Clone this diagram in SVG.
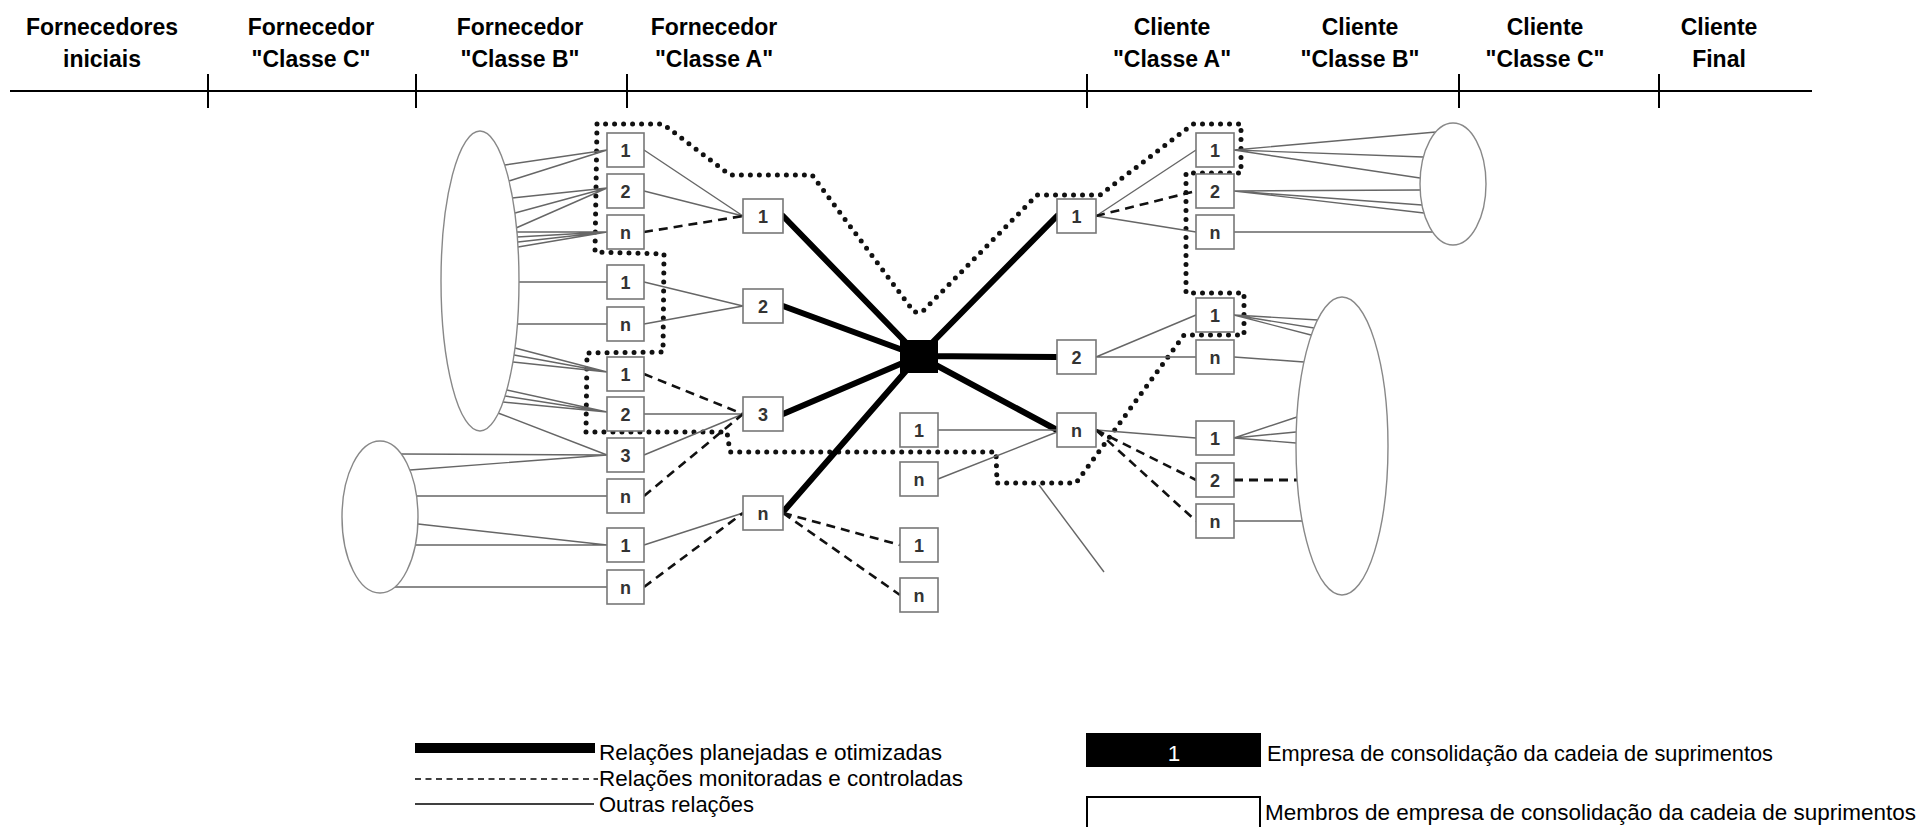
<svg xmlns="http://www.w3.org/2000/svg" width="1923" height="827" viewBox="0 0 1923 827">
  <style>
    .hdr { font-family: "Liberation Sans", Arial, sans-serif; font-size: 23px; font-weight: bold; fill: #000; text-anchor: middle; }
    .lbl { font-family: "Liberation Sans", Arial, sans-serif; font-size: 18px; font-weight: bold; fill: #333; text-anchor: middle; }
    .leg { font-family: "Liberation Sans", Arial, sans-serif; font-size: 22.5px; fill: #000; }
    .box { fill: #fff; stroke: #777; stroke-width: 1.6; }
    .ell { fill: #fff; stroke: #888; stroke-width: 1.4; }
    .thin { fill: none; stroke: #666; stroke-width: 1.4; }
    .dash { fill: none; stroke: #111; stroke-width: 2.6; stroke-dasharray: 9 6; }
    .thick { fill: none; stroke: #000; stroke-width: 6; stroke-linecap: round; }
    .dot { fill: none; stroke: #111; stroke-width: 5; stroke-dasharray: 0 9; stroke-linecap: round; stroke-linejoin: round; }
    .axis { fill: none; stroke: #000; stroke-width: 2; }
  </style>

  <!-- header: supply chain tiers -->
  <g id="header">
    <line class="axis" x1="10" y1="91" x2="1812" y2="91"/>
    <line class="axis" x1="208" y1="74" x2="208" y2="108"/>
    <line class="axis" x1="416" y1="74" x2="416" y2="108"/>
    <line class="axis" x1="627" y1="74" x2="627" y2="108"/>
    <line class="axis" x1="1087" y1="74" x2="1087" y2="108"/>
    <line class="axis" x1="1459" y1="74" x2="1459" y2="108"/>
    <line class="axis" x1="1659" y1="74" x2="1659" y2="108"/>
    <text class="hdr" x="102" y="35">Fornecedores</text>
    <text class="hdr" x="102" y="67">iniciais</text>
    <text class="hdr" x="311" y="35">Fornecedor</text>
    <text class="hdr" x="311" y="67">"Classe C"</text>
    <text class="hdr" x="520" y="35">Fornecedor</text>
    <text class="hdr" x="520" y="67">"Classe B"</text>
    <text class="hdr" x="714" y="35">Fornecedor</text>
    <text class="hdr" x="714" y="67">"Classe A"</text>
    <text class="hdr" x="1172" y="35">Cliente</text>
    <text class="hdr" x="1172" y="67">"Classe A"</text>
    <text class="hdr" x="1360" y="35">Cliente</text>
    <text class="hdr" x="1360" y="67">"Classe B"</text>
    <text class="hdr" x="1545" y="35">Cliente</text>
    <text class="hdr" x="1545" y="67">"Classe C"</text>
    <text class="hdr" x="1719" y="35">Cliente</text>
    <text class="hdr" x="1719" y="67">Final</text>
  </g>

  <!-- connectors -->
  <g id="connectors">
    <!-- consolidated region boundary -->
    <path class="dot" d="M597 124 L595 252 L664 254 L663 352 L587 353 L586 432 L727 432 L730 452 L996 452 L997 483 L1076 483 L1184 335 L1244 335 L1244 293 L1186 293 L1186 173 L1241 173 L1241 124 L1193 124 L1100 195 L1037 195 L922 312 L914 312 L812 175 L730 175 L663 124 Z"/>

    <!-- initial suppliers (upper) to class B -->
    <path class="thin" d="M505 165 L607 150 M509 181 L607 150 M512 198 L607 188 M515 213 L607 188 M516 228 L607 188 M517 232 L607 232 M517 237 L607 232 M518 242 L607 232 M518 247 L607 232 M519 282 L607 282 M517 324 L607 324 M515 348 L607 372 M514 355 L607 372 M513 362 L607 372 M507 390 L607 412 M505 396 L607 412 M503 402 L607 412 M498 413 L607 455"/>
    <!-- initial suppliers (lower) to class B -->
    <path class="thin" d="M401 454 L607 455 M410 470 L607 455 M416 496 L607 496 M418 524 L607 545 M415 545 L607 545 M395 587 L607 587"/>

    <!-- class B to class A -->
    <path class="thin" d="M644 150 L743 216 M644 191 L743 216 M644 282 L743 306 M644 324 L743 306 M644 414 L743 414 M644 455 L743 414 M644 545 L743 513"/>
    <path class="dash" d="M644 232 L743 216 M644 374 L743 414 M644 496 L743 414 M644 587 L743 513"/>

    <!-- planned and optimised relations through the hub -->
    <path class="thick" d="M783 216 L919 356 M783 306 L919 356 M783 414 L919 356 M783 512 L919 356 M919 356 L1057 216 M919 356 L1057 357 M919 356 L1057 430"/>

    <!-- class A supplier n to lower members -->
    <path class="dash" d="M783 513 L900 545 M783 513 L900 595"/>

    <!-- middle members to client A -->
    <path class="thin" d="M938 430 L1057 430 M938 479 L1057 432"/>

    <!-- client A to client B -->
    <path class="thin" d="M1096 216 L1196 150 M1096 216 L1196 232 M1096 357 L1196 315 M1096 357 L1196 357 M1096 430 L1196 438"/>
    <path class="dash" d="M1096 216 L1196 191 M1096 430 L1196 480 M1096 430 L1196 521"/>

    <!-- client B to client C groups -->
    <path class="thin" d="M1234 150 L1436 132 M1234 150 L1423 157 M1234 150 L1420 178 M1234 191 L1420 190 M1234 191 L1422 205 M1234 191 L1424 213 M1234 232 L1433 232"/>
    <path class="thin" d="M1234 315 L1318 320 M1234 315 L1314 328 M1234 315 L1311 335 M1234 357 L1304 362 M1234 438 L1297 417 M1234 438 L1296 432 M1234 438 L1296 443 M1234 521 L1302 521"/>
    <path class="dash" d="M1234 480 L1297 480" style="stroke-width:3"/>

    <!-- leader line -->
    <path class="thin" d="M1039 485 L1104 572"/>
  </g>

  <!-- groups of companies -->
  <g id="initial-suppliers-upper"><ellipse class="ell" cx="480" cy="281" rx="39" ry="150"/></g>
  <g id="initial-suppliers-lower"><ellipse class="ell" cx="380" cy="517" rx="38" ry="76"/></g>
  <g id="final-clients-upper"><ellipse class="ell" cx="1453" cy="184" rx="33" ry="61"/></g>
  <g id="final-clients-lower"><ellipse class="ell" cx="1342" cy="446" rx="46" ry="149"/></g>

  <!-- class B suppliers -->
  <g id="sb1"><rect class="box" x="607" y="133" width="37" height="34"/><text class="lbl" x="625.5" y="157">1</text></g>
  <g id="sb2"><rect class="box" x="607" y="174" width="37" height="34"/><text class="lbl" x="625.5" y="198">2</text></g>
  <g id="sb3"><rect class="box" x="607" y="215" width="37" height="34"/><text class="lbl" x="625.5" y="239">n</text></g>
  <g id="sb4"><rect class="box" x="607" y="265" width="37" height="34"/><text class="lbl" x="625.5" y="289">1</text></g>
  <g id="sb5"><rect class="box" x="607" y="307" width="37" height="34"/><text class="lbl" x="625.5" y="331">n</text></g>
  <g id="sb6"><rect class="box" x="607" y="357" width="37" height="34"/><text class="lbl" x="625.5" y="381">1</text></g>
  <g id="sb7"><rect class="box" x="607" y="397" width="37" height="34"/><text class="lbl" x="625.5" y="421">2</text></g>
  <g id="sb8"><rect class="box" x="607" y="438" width="37" height="34"/><text class="lbl" x="625.5" y="462">3</text></g>
  <g id="sb9"><rect class="box" x="607" y="479" width="37" height="34"/><text class="lbl" x="625.5" y="503">n</text></g>
  <g id="sb10"><rect class="box" x="607" y="528" width="37" height="34"/><text class="lbl" x="625.5" y="552">1</text></g>
  <g id="sb11"><rect class="box" x="607" y="570" width="37" height="34"/><text class="lbl" x="625.5" y="594">n</text></g>

  <!-- class A suppliers -->
  <g id="sa1"><rect class="box" x="743" y="199" width="40" height="34"/><text class="lbl" x="763" y="223">1</text></g>
  <g id="sa2"><rect class="box" x="743" y="289" width="40" height="34"/><text class="lbl" x="763" y="313">2</text></g>
  <g id="sa3"><rect class="box" x="743" y="397" width="40" height="34"/><text class="lbl" x="763" y="421">3</text></g>
  <g id="sa4"><rect class="box" x="743" y="496" width="40" height="34"/><text class="lbl" x="763" y="520">n</text></g>

  <!-- consolidating company -->
  <g id="hub"><rect x="900" y="340" width="38" height="33" fill="#000"/></g>

  <!-- other members -->
  <g id="m1"><rect class="box" x="900" y="413" width="38" height="34"/><text class="lbl" x="919" y="437">1</text></g>
  <g id="m2"><rect class="box" x="900" y="462" width="38" height="34"/><text class="lbl" x="919" y="486">n</text></g>
  <g id="m3"><rect class="box" x="900" y="528" width="38" height="34"/><text class="lbl" x="919" y="552">1</text></g>
  <g id="m4"><rect class="box" x="900" y="578" width="38" height="34"/><text class="lbl" x="919" y="602">n</text></g>

  <!-- class A clients -->
  <g id="ca1"><rect class="box" x="1057" y="199" width="39" height="34"/><text class="lbl" x="1076.5" y="223">1</text></g>
  <g id="ca2"><rect class="box" x="1057" y="340" width="39" height="34"/><text class="lbl" x="1076.5" y="364">2</text></g>
  <g id="ca3"><rect class="box" x="1057" y="413" width="39" height="34"/><text class="lbl" x="1076.5" y="437">n</text></g>

  <!-- class B clients -->
  <g id="cb1"><rect class="box" x="1196" y="133" width="38" height="34"/><text class="lbl" x="1215" y="157">1</text></g>
  <g id="cb2"><rect class="box" x="1196" y="174" width="38" height="34"/><text class="lbl" x="1215" y="198">2</text></g>
  <g id="cb3"><rect class="box" x="1196" y="215" width="38" height="34"/><text class="lbl" x="1215" y="239">n</text></g>
  <g id="cb4"><rect class="box" x="1196" y="298" width="38" height="34"/><text class="lbl" x="1215" y="322">1</text></g>
  <g id="cb5"><rect class="box" x="1196" y="340" width="38" height="34"/><text class="lbl" x="1215" y="364">n</text></g>
  <g id="cb6"><rect class="box" x="1196" y="421" width="38" height="34"/><text class="lbl" x="1215" y="445">1</text></g>
  <g id="cb7"><rect class="box" x="1196" y="463" width="38" height="34"/><text class="lbl" x="1215" y="487">2</text></g>
  <g id="cb8"><rect class="box" x="1196" y="504" width="38" height="34"/><text class="lbl" x="1215" y="528">n</text></g>

  <!-- legend -->
  <g id="legend-lines">
    <rect x="415" y="743" width="180" height="10" fill="#000"/>
    <text class="leg" x="599" y="760" textLength="343" lengthAdjust="spacingAndGlyphs">Relações planejadas e otimizadas</text>
    <line x1="415" y1="779" x2="598" y2="779" stroke="#000" stroke-width="1.3" stroke-dasharray="6 4.5"/>
    <text class="leg" x="599" y="786" textLength="364" lengthAdjust="spacingAndGlyphs">Relações monitoradas e controladas</text>
    <line x1="415" y1="804" x2="594" y2="804" stroke="#000" stroke-width="1.6"/>
    <text class="leg" x="599" y="812" textLength="155" lengthAdjust="spacingAndGlyphs">Outras relações</text>
  </g>
  <g id="legend-boxes">
    <rect x="1086" y="733" width="175" height="34" fill="#000"/>
    <text class="leg" x="1174" y="761" style="fill:#fff;text-anchor:middle">1</text>
    <text class="leg" x="1267" y="761" textLength="506" lengthAdjust="spacingAndGlyphs">Empresa de consolidação da cadeia de suprimentos</text>
    <rect x="1087" y="797" width="173" height="50" fill="#fff" stroke="#000" stroke-width="2"/>
    <text class="leg" x="1265" y="820" textLength="651" lengthAdjust="spacingAndGlyphs">Membros de empresa de consolidação da cadeia de suprimentos</text>
  </g>
</svg>
